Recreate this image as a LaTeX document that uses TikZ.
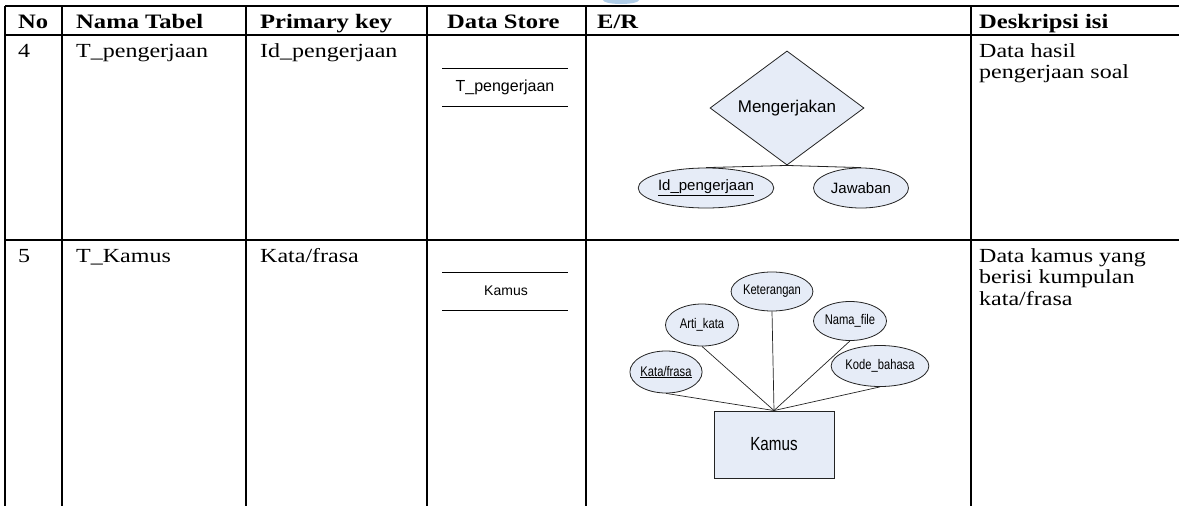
\documentclass[tikz,border=0pt]{standalone}
\usepackage{fontspec}
\setmainfont{Liberation Serif}[FakeStretch=1.2]
\newfontfamily\arialf{Liberation Sans}
\newfontfamily\narrowf[FakeStretch=0.8]{Liberation Sans}
\usetikzlibrary{shapes.geometric}
\definecolor{erfill}{RGB}{230,236,247}
\definecolor{erline}{RGB}{35,35,35}
\definecolor{logoblue}{RGB}{175,205,232}
\tikzset{
  gridline/.style={line width=1.8pt, black},
  hdr/.style={anchor=base west, inner sep=0pt, font=\fontsize{20.5}{22}\selectfont\bfseries},
  cell/.style={anchor=base west, inner sep=0pt, font=\fontsize{20}{22}\selectfont},
  dsline/.style={line width=0.8pt, black},
  dstext/.style={inner sep=0pt, font=\arialf\fontsize{16}{16}\selectfont},
  rel/.style={diamond, draw=erline, fill=erfill, line width=0.8pt, inner sep=0pt,
    minimum width=154, minimum height=80, font=\arialf\fontsize{17}{17}\selectfont},
  attr/.style={ellipse, draw=erline, fill=erfill, line width=0.8pt, inner sep=0pt,
    minimum height=40, font=\arialf\fontsize{15}{15}\selectfont},
  sattr/.style={ellipse, draw=erline, fill=erfill, line width=0.8pt, inner sep=0pt,
    font=\narrowf\fontsize{14}{14}\selectfont},
  ent/.style={rectangle, draw=erline, fill=erfill, line width=0.9pt, inner sep=0pt,
    minimum width=120, minimum height=67, font=\narrowf\fontsize{19}{19}\selectfont},
  conn/.style={line width=0.8pt, erline}
}
\begin{document}
\begin{tikzpicture}[x=1pt,y=-1pt]
\useasboundingbox (0,0) rectangle (1179,506);
% logo fragment
\begin{scope}
\clip (0,0) rectangle (1179,506);
\fill[logoblue] (621,0) ellipse (18 and 4);
\end{scope}
% grid
\draw[gridline] (5,6) -- (1179,6);
\draw[gridline] (5,35) -- (1179,35);
\draw[gridline] (5,240) -- (1179,240);
\foreach \x in {5,62,246,427,586,971} \draw[gridline] (\x,6) -- (\x,506);
% header
\node[hdr] (h1) at (18,28.5) {No};
\node[hdr] (h2) at (76,28.5) {Nama Tabel};
\node[hdr] (h3) at (260,28.5) {Primary key};
\node[hdr] (h4) at (447,28.5) {Data Store};
\node[hdr] (h5) at (597,28.5) {E/R};
\node[hdr] (h6) at (979,28.5) {Deskripsi isi};
% row 4
\node[cell] (a1) at (18,57) {4};
\node[cell] (a2) at (76,57) {T\_pengerjaan};
\node[cell] (a3) at (260,57) {Id\_pengerjaan};
\node[cell] (a6a) at (979,57) {Data hasil};
\node[cell] (a6b) at (979,78.7) {pengerjaan soal};
\coordinate (ds1a) at (442,68); \coordinate (ds1b) at (568,68);
\coordinate (ds1c) at (442,106); \coordinate (ds1d) at (568,106);
\draw[dsline] (ds1a) -- (ds1b);
\draw[dsline] (ds1c) -- (ds1d);
\node[dstext] (ds1) at (505,87) {T\_pengerjaan};
\node[rel] (meng) at (787,108) {Mengerjakan};
\node[attr, minimum width=122] (idp) at (706,188) {\underline{Id\_pengerjaan}};
\node[attr, minimum width=95] (jaw) at (861,188) {Jawaban};
\draw[conn] (meng.south) -- (idp.north);
\draw[conn] (meng.south) -- (jaw.north);
% row 5
\node[cell] (b1) at (18,262) {5};
\node[cell] (b2) at (76,262) {T\_Kamus};
\node[cell] (b3) at (260,262) {Kata/frasa};
\node[cell] (b6a) at (979,262) {Data kamus yang};
\node[cell] (b6b) at (979,283.7) {berisi kumpulan};
\node[cell] (b6c) at (979,305.4) {kata/frasa};
\coordinate (ds2a) at (442,272); \coordinate (ds2b) at (568,272);
\coordinate (ds2c) at (442,310); \coordinate (ds2d) at (568,310);
\draw[dsline] (ds2a) -- (ds2b);
\draw[dsline] (ds2c) -- (ds2d);
\node[dstext, font=\arialf\fontsize{14}{14}\selectfont] (ds2) at (506,291) {Kamus};
\node[ent] (kamus) at (774,444.5) {Kamus};
\node[sattr, minimum width=67, minimum height=39] (ket) at (772,291.5) {Keterangan};
\node[sattr, minimum width=73, minimum height=42] (arti) at (702,325) {Arti\_kata};
\node[sattr, minimum width=73, minimum height=39] (nama) at (850,321) {Nama\_file};
\node[sattr, minimum width=71, minimum height=42] (kata) at (666,372) {\underline{Kata/frasa}};
\node[sattr, minimum width=85, minimum height=41] (kode) at (880,366) {Kode\_bahasa};
\foreach \n in {kata,arti,ket,nama,kode} \draw[conn, line width=0.7pt] (\n.south) -- (kamus.north);
\end{tikzpicture}
\end{document}
